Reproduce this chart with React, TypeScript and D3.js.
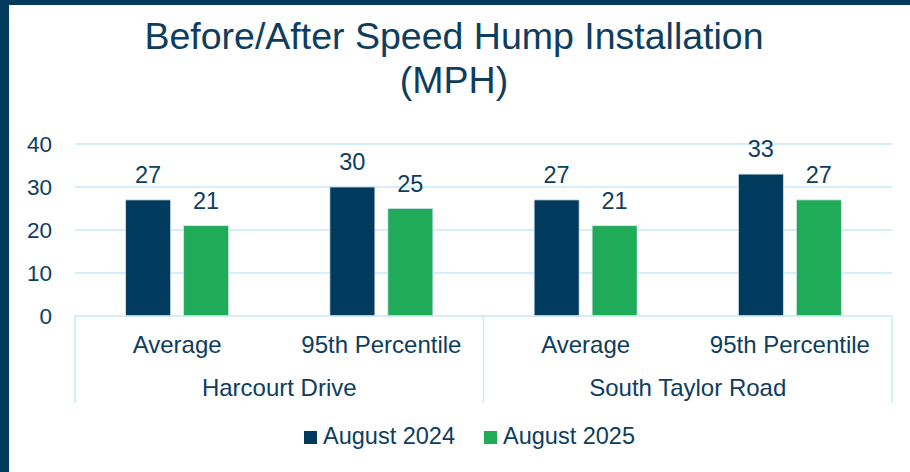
import React, { useEffect, useRef } from "react";
import * as d3 from "d3";

const groups = ["Harcourt Drive", "South Taylor Road"];
const metrics = ["Average", "95th Percentile"];
const series = ["August 2024", "August 2025"];
const values2024 = [27, 30, 27, 33];
const values2025 = [21, 25, 21, 27];
const yTicks = [0, 10, 20, 30, 40];

const colors = ["#003a5c", "#1fab58"];
const textColor = "#0e3d5e";
const gridColor = "#c6e8f8";
const font = "'Liberation Sans', Arial, sans-serif";

export default function App() {
  const svgRef = useRef<SVGSVGElement>(null);

  useEffect(() => {
    document.body.style.margin = "0";
    const svg = d3.select(svgRef.current);
    svg.selectAll("*").remove();

    const W = 910;
    const H = 472;
    const plot = { left: 75, right: 892, top: 144, bottom: 316 };

    // frame
    svg.append("rect").attr("width", W).attr("height", H).attr("fill", "#003a5c");
    svg.append("rect").attr("x", 9).attr("y", 5).attr("width", W - 9).attr("height", H - 5)
      .attr("fill", "#ffffff");

    // title
    const title = svg.append("text").attr("text-anchor", "middle").attr("fill", textColor)
      .style("font-family", font).style("font-size", "37.5px");
    title.append("tspan").attr("x", 454).attr("y", 49).text("Before/After Speed Hump Installation");
    title.append("tspan").attr("x", 454).attr("y", 93).text("(MPH)");

    const y = d3.scaleLinear().domain([0, 40]).range([plot.bottom, plot.top]);

    const cats = groups.flatMap((g) => metrics.map((m) => `${g}|${m}`));
    const x = d3.scaleBand().domain(cats).range([plot.left, plot.right]);
    const xInner = d3.scaleBand().domain(series).range([0, x.bandwidth()])
      .paddingInner(0.224).paddingOuter(0.873);

    // gridlines
    svg.append("g").selectAll("line").data(yTicks.filter((t) => t > 0)).join("line")
      .attr("x1", plot.left).attr("x2", plot.right)
      .attr("y1", (d) => y(d)).attr("y2", (d) => y(d))
      .attr("stroke", gridColor).attr("stroke-width", 1.5);

    // y labels
    svg.append("g").selectAll("text").data(yTicks).join("text")
      .attr("x", 52).attr("y", (d) => y(d) + 8)
      .attr("text-anchor", "end").attr("fill", textColor)
      .style("font-family", font).style("font-size", "22.5px")
      .text((d) => d);

    // bars
    const data = cats.flatMap((c, i) => [
      { cat: c, s: series[0], v: values2024[i], color: colors[0] },
      { cat: c, s: series[1], v: values2025[i], color: colors[1] },
    ]);
    const bars = svg.append("g");
    bars.selectAll("rect").data(data).join("rect")
      .attr("x", (d) => (x(d.cat) as number) + (xInner(d.s) as number))
      .attr("y", (d) => y(d.v))
      .attr("width", xInner.bandwidth())
      .attr("height", (d) => y(0) - y(d.v))
      .attr("fill", (d) => d.color)
      .attr("stroke", "#cfe3ee").attr("stroke-width", 0.8);
    bars.selectAll("text").data(data).join("text")
      .attr("x", (d) => (x(d.cat) as number) + (xInner(d.s) as number) + xInner.bandwidth() / 2)
      .attr("y", (d) => y(d.v) - 17)
      .attr("text-anchor", "middle").attr("fill", textColor)
      .style("font-family", font).style("font-size", "23.5px")
      .text((d) => d.v);

    // category axis
    const axis = svg.append("g").attr("stroke", gridColor).attr("stroke-width", 1.5);
    axis.append("line").attr("x1", plot.left).attr("x2", plot.right)
      .attr("y1", plot.bottom).attr("y2", plot.bottom);
    const groupEdges = [plot.left, (x(cats[2]) as number), plot.right];
    axis.selectAll(".edge").data(groupEdges).join("line").attr("class", "edge")
      .attr("x1", (d) => d).attr("x2", (d) => d)
      .attr("y1", plot.bottom).attr("y2", 403);

    svg.append("g").selectAll("text").data(cats).join("text")
      .attr("x", (d) => (x(d) as number) + x.bandwidth() / 2)
      .attr("y", 353)
      .attr("text-anchor", "middle").attr("fill", textColor)
      .style("font-family", font).style("font-size", "24px")
      .text((d) => d.split("|")[1]);

    svg.append("g").selectAll("text").data(groups).join("text")
      .attr("x", (d, i) => (groupEdges[i] + groupEdges[i + 1]) / 2)
      .attr("y", 396)
      .attr("text-anchor", "middle").attr("fill", textColor)
      .style("font-family", font).style("font-size", "24px")
      .text((d) => d);

    // legend
    const legendX = [304, 484];
    const legend = svg.append("g").selectAll("g").data(series).join("g")
      .attr("transform", (d, i) => `translate(${legendX[i]},431)`);
    legend.append("rect").attr("width", 13).attr("height", 13)
      .attr("fill", (d, i) => colors[i]);
    legend.append("text").attr("x", 19).attr("y", 12.5)
      .attr("fill", textColor)
      .style("font-family", font).style("font-size", "23.5px")
      .text((d) => d);
  }, []);

  return (
    <div style={{ position: "absolute", left: 0, top: 0 }}>
      <svg ref={svgRef} width={910} height={472} style={{ display: "block" }}></svg>
    </div>
  );
}
